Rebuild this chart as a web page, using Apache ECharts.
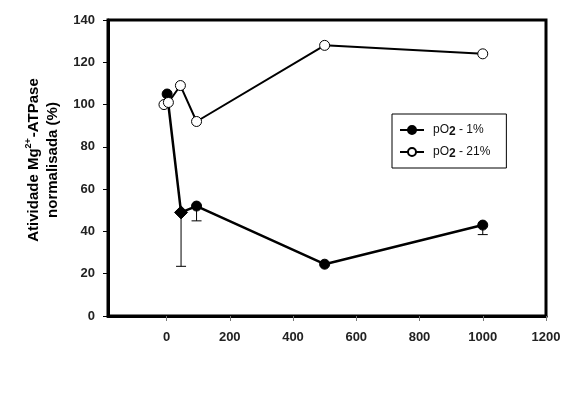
<!DOCTYPE html>
<html><head><meta charset="utf-8">
<script src="https://cdn.jsdelivr.net/npm/echarts@6/dist/echarts.min.js"></script>
<style>html,body{margin:0;padding:0;background:#fff}#c{width:569px;height:398px}</style>
</head><body><div id="c"></div>
<script>
// Data
const xTicks = [0, 200, 400, 600, 800, 1000, 1200];
const yTicks = [0, 20, 40, 60, 80, 100, 120, 140];
const low_x = [2, 46, 95, 500, 1000];
const low_y = [105, 49, 52, 24.5, 43];
const low_sym = ['circle', 'diamond', 'circle', 'circle', 'circle'];
const low_errLow = [null, 23.5, 45, null, 38.5];
const high_x = [-8, 6, 44, 95, 500, 1000];
const high_y = [100, 101, 109, 92, 128, 124];
const seriesNames = ['pO2 - 1%', 'pO2 - 21%'];

const lowData = low_x.map((x, i) => ({value: [x, low_y[i]], symbol: low_sym[i], symbolSize: low_sym[i] === 'diamond' ? 13 : 10}));
const highData = high_x.map((x, i) => [x, high_y[i]]);
const errData = [];
low_x.forEach((x, i) => { if (low_errLow[i] != null) errData.push([x, low_y[i], low_errLow[i]]); });

const font = 'Liberation Sans, Arial, sans-serif';
const chart = echarts.init(document.getElementById('c'), null, {renderer: 'canvas'});
chart.setOption({
  animation: false,
  backgroundColor: '#fff',
  grid: {left: 108, right: 23, top: 20, bottom: 82, show: true, borderColor: '#000', borderWidth: 3, backgroundColor: 'transparent'},
  legend: {
    left: 392, top: 114, width: 113, orient: 'vertical',
    itemGap: 6, itemWidth: 24, itemHeight: 10,
    padding: [8, 16, 8, 7],
    borderColor: '#000', borderWidth: 1, backgroundColor: '#fff',
    data: seriesNames,
    formatter: n => { const i = n.indexOf('2'); return '{p|' + n.slice(0, i) + '}{s|2}{a|' + n.slice(i + 1) + '}'; },
    textStyle: {
      fontFamily: font, color: '#111',
      rich: {
        p: {fontSize: 12, fontFamily: font, color: '#111', lineHeight: 16, padding: [0, 0, 0, 4]},
        a: {fontSize: 12, fontFamily: font, color: '#111', lineHeight: 16},
        s: {fontSize: 12, fontWeight: 'bold', fontFamily: font, color: '#111', verticalAlign: 'bottom', lineHeight: 12, padding: [4, 0, 0, 0]}
      }
    }
  },
  xAxis: {
    type: 'value', min: -185, max: 1200,
    splitLine: {show: false},
    axisLine: {show: true, onZero: false, lineStyle: {color: '#000', width: 3}},
    axisTick: {show: true, customValues: xTicks, length: 5, lineStyle: {color: '#777', width: 1}},
    axisLabel: {customValues: xTicks, margin: 15, fontFamily: font, fontSize: 13, fontWeight: 'bold', color: '#222', formatter: v => String(v)}
  },
  yAxis: {
    type: 'value', min: 0, max: 140, interval: 20,
    splitLine: {show: false},
    axisLine: {show: true, onZero: false, lineStyle: {color: '#000', width: 3}},
    axisTick: {show: true, length: 5, lineStyle: {color: '#000', width: 1}},
    axisLabel: {margin: 13, fontFamily: font, fontSize: 13, fontWeight: 'bold', color: '#222'},
    name: '{b|Atividade Mg}{sup|2+}{b|-ATPase}\n{b|normalisada (%)}',
    nameLocation: 'middle', nameRotate: 90, nameGap: 46,
    nameTextStyle: {
      align: 'center',
      padding: [0, 0, 0, 16],
      rich: {
        b: {fontFamily: font, fontSize: 15, fontWeight: 'bold', color: '#000', lineHeight: 19},
        sup: {fontFamily: font, fontSize: 9, fontWeight: 'bold', color: '#000', verticalAlign: 'top', lineHeight: 9, padding: [0, 1, 8, 0]}
      }
    }
  },
  series: [
    {
      type: 'custom', name: 'err', silent: true, z: 1,
      data: errData,
      renderItem: (params, api) => {
        const top = api.coord([api.value(0), api.value(1)]);
        const bot = api.coord([api.value(0), api.value(2)]);
        const hw = 5;
        return {type: 'group', children: [
          {type: 'line', shape: {x1: top[0], y1: top[1], x2: bot[0], y2: bot[1]}, style: {stroke: '#000', lineWidth: 1}},
          {type: 'line', shape: {x1: bot[0] - hw, y1: bot[1], x2: bot[0] + hw, y2: bot[1]}, style: {stroke: '#000', lineWidth: 1}}
        ]};
      }
    },
    {
      type: 'line', name: seriesNames[0], data: lowData, z: 3,
      symbol: 'circle', symbolSize: 10,
      lineStyle: {color: '#000', width: 2.5},
      itemStyle: {color: '#000', borderColor: '#000', borderWidth: 1}
    },
    {
      type: 'line', name: seriesNames[1], data: highData, z: 4,
      symbol: 'circle', symbolSize: 10,
      lineStyle: {color: '#000', width: 2},
      itemStyle: {color: '#fff', borderColor: '#000', borderWidth: 1}
    }
  ]
});
</script></body></html>
